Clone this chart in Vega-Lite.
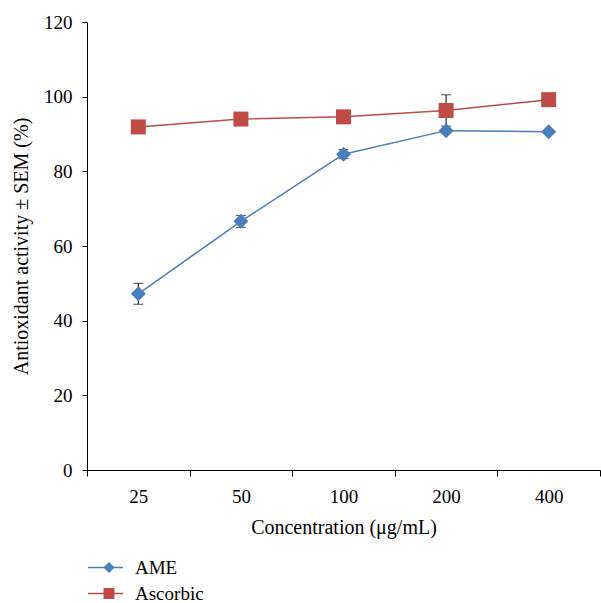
{
  "$schema": "https://vega.github.io/schema/vega-lite/v6.json",
  "width": 513,
  "height": 448,
  "autosize": {"type": "none"},
  "padding": {"left": 87, "top": 22, "right": 1, "bottom": 133},
  "background": "white",
  "config": {
    "view": {"stroke": null},
    "font": "Liberation Serif",
    "axis": {"domainColor": "#000", "tickColor": "#000", "labelColor": "#000", "titleColor": "#000", "labelFont": "Liberation Serif", "titleFont": "Liberation Serif", "labelFontSize": 19, "titleFontSize": 20, "titleFontWeight": "normal", "grid": false, "domainWidth": 1, "tickWidth": 1},
    "legend": {"labelFont": "Liberation Serif", "labelFontSize": 19, "labelColor": "#000"}
  },
  "data": {"values": [
    {"conc": "25", "series": "AME", "value": 47.2, "sem": 2.8},
    {"conc": "50", "series": "AME", "value": 66.6, "sem": 1.6},
    {"conc": "100", "series": "AME", "value": 84.6, "sem": 1.2},
    {"conc": "200", "series": "AME", "value": 90.9, "sem": 0.6},
    {"conc": "400", "series": "AME", "value": 90.6, "sem": 0.5},
    {"conc": "25", "series": "Ascorbic", "value": 91.9, "sem": 0.5},
    {"conc": "50", "series": "Ascorbic", "value": 94.0, "sem": 0.5},
    {"conc": "100", "series": "Ascorbic", "value": 94.6, "sem": 0.5},
    {"conc": "200", "series": "Ascorbic", "value": 96.3, "sem": 4.2},
    {"conc": "400", "series": "Ascorbic", "value": 99.2, "sem": 0.5}
  ]},
  "encoding": {
    "x": {"field": "conc", "type": "ordinal", "sort": ["25", "50", "100", "200", "400"], "scale": {"type": "band", "paddingInner": 0, "paddingOuter": 0}, "axis": {"title": "Concentration (μg/mL)", "labelAngle": 0, "tickBand": "extent", "tickSize": 6, "labelPadding": 11, "titlePadding": 11}},
    "y": {"field": "value", "type": "quantitative", "scale": {"domain": [0, 120], "nice": false}, "axis": {"title": "Antioxidant activity ± SEM (%)", "values": [0, 20, 40, 60, 80, 100, 120], "tickSize": 5, "labelPadding": 10, "titlePadding": 12}}
  },
  "layer": [
    {
      "mark": {"type": "errorbar", "ticks": {"size": 10, "color": "#000"}, "rule": {"color": "#000"}, "color": "#000"},
      "encoding": {"yError": {"field": "sem"}}
    },
    {
      "mark": {"type": "line", "strokeWidth": 1.5},
      "encoding": {
        "stroke": {"field": "series", "type": "nominal", "scale": {"domain": ["AME", "Ascorbic"], "range": ["#4a7ebb", "#be4b48"]}, "legend": {"orient": "none", "legendX": 0, "legendY": 537, "title": null, "symbolType": "stroke", "symbolSize": 1225, "symbolStrokeWidth": 1.5, "labelOffset": 11, "clipHeight": 17, "rowPadding": 6, "padding": 0}}
      }
    },
    {
      "mark": {"type": "point", "filled": true, "opacity": 1, "size": 225, "strokeWidth": 0},
      "encoding": {
        "fill": {"field": "series", "type": "nominal", "scale": {"range": ["#4a7ebb", "#be4b48"]}, "legend": {"orient": "none", "legendX": 12.5, "legendY": 537, "title": null, "symbolSize": 120, "labelExpr": "''", "clipHeight": 17, "rowPadding": 6, "padding": 0}},
        "shape": {"field": "series", "type": "nominal", "scale": {"range": ["diamond", "square"]}, "legend": {"orient": "none", "legendX": 12.5, "legendY": 537, "title": null, "symbolSize": 120, "labelExpr": "''", "clipHeight": 17, "rowPadding": 6, "padding": 0}}
      }
    }
  ]
}
